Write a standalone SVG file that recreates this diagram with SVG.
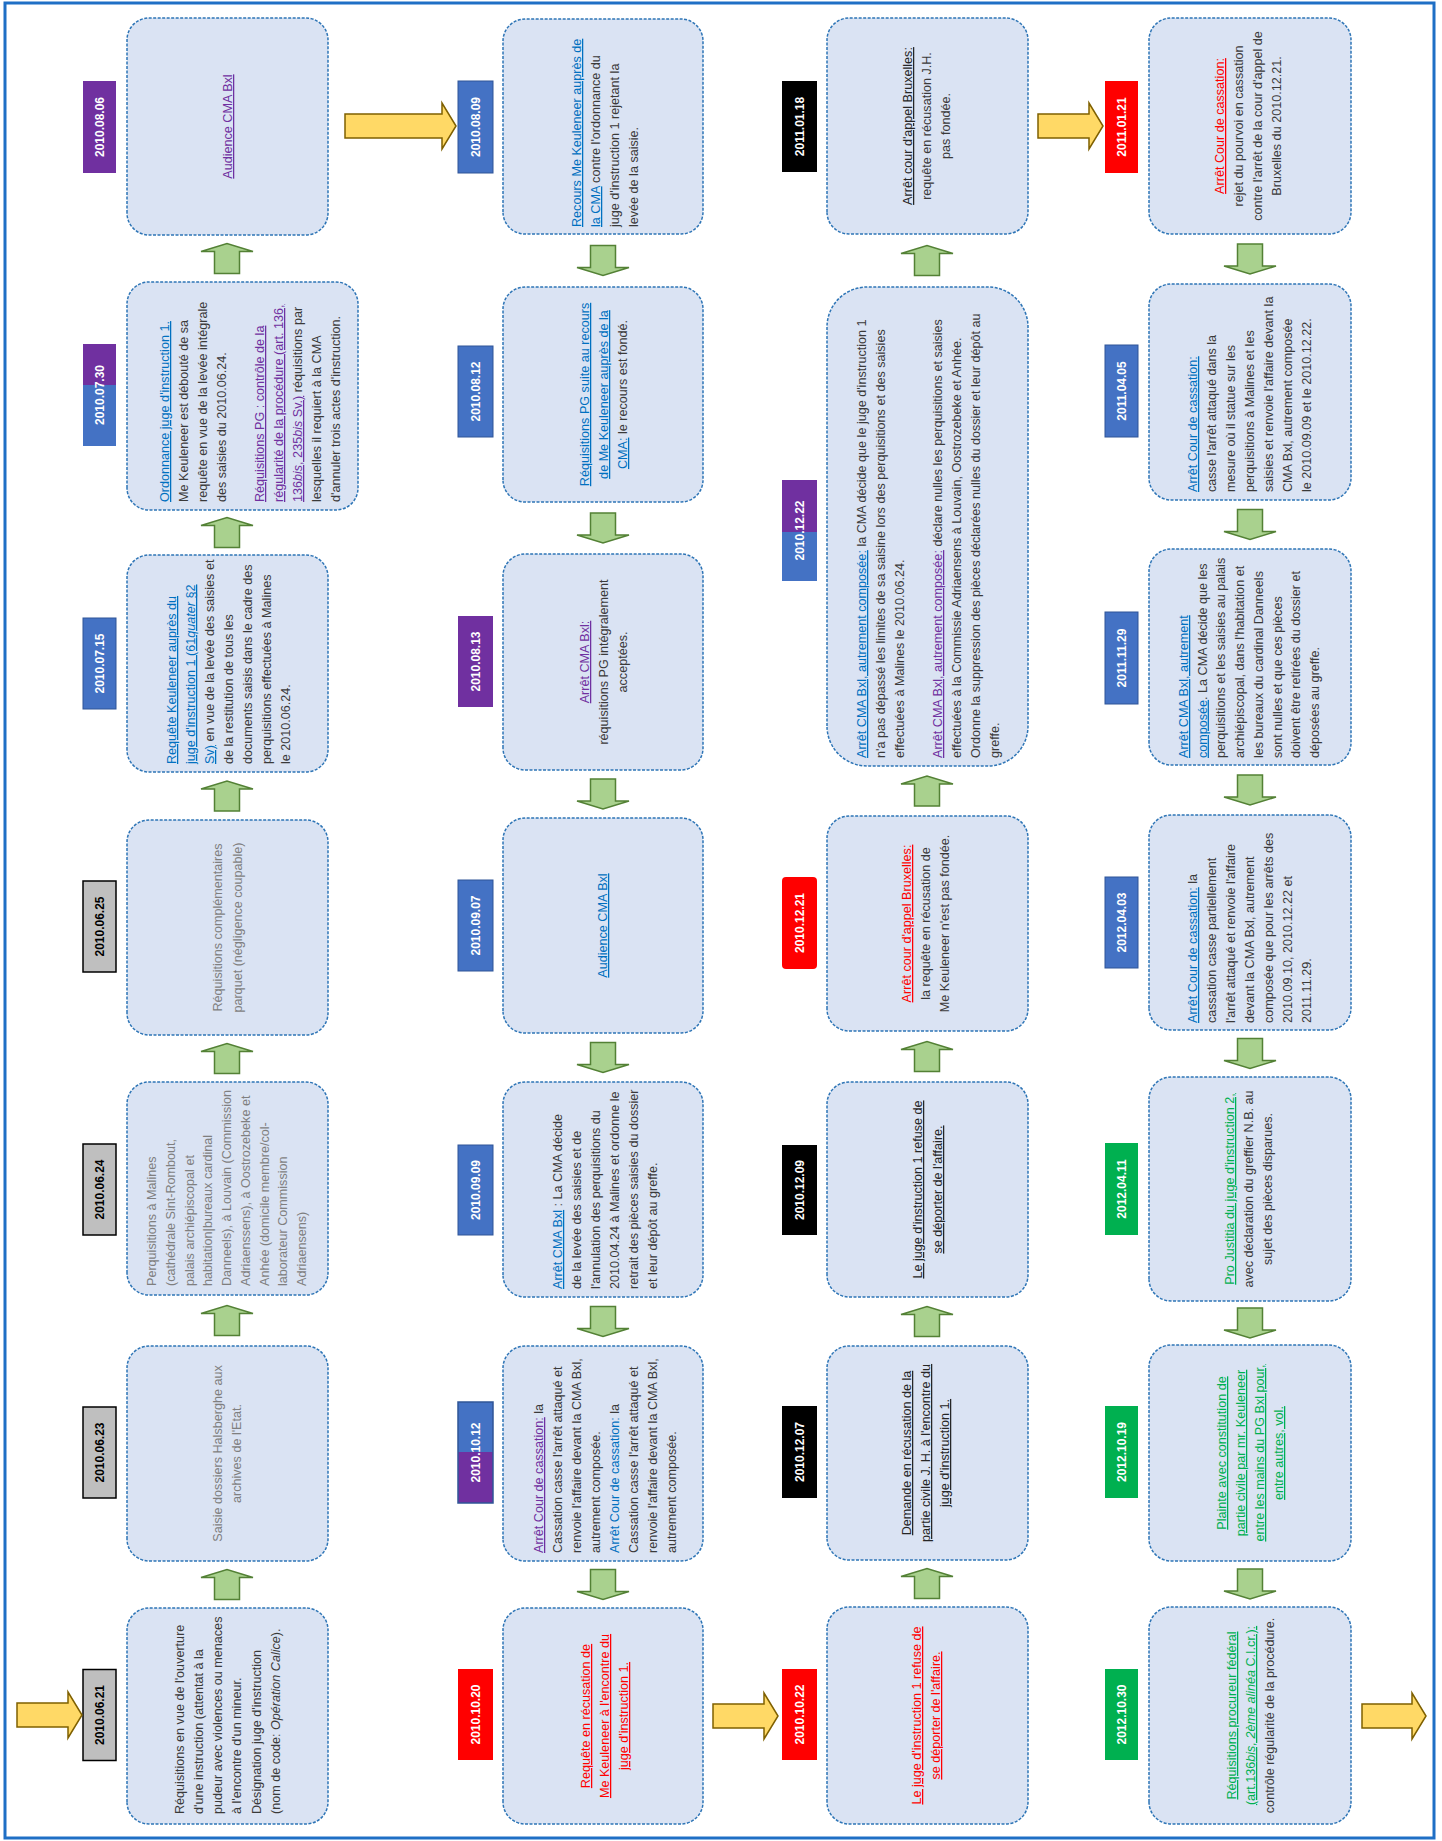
<svg xmlns="http://www.w3.org/2000/svg" width="1442" height="1841" viewBox="0 0 1442 1841">
<style>
.bx{fill:#DAE3F3;stroke:#2E75B6;stroke-width:1.5;stroke-dasharray:3 1.5}
.t{font-family:"Liberation Sans",Arial,sans-serif;font-size:12.6px;fill:#3A3A3A}
.gr{fill:#7F7F7F}
.c{text-anchor:middle}
.u{text-decoration:underline}
.b{fill:#0070C0}
.p{fill:#7030A0}
.r{fill:#FF0000}
.g{fill:#00B050}
.k{fill:#262626}
.i{font-style:italic}
.dl{font-family:"Liberation Sans",Arial,sans-serif;font-size:12px;font-weight:bold;fill:#fff;text-anchor:middle}
.dk{fill:#000}
.lg{fill:#BFBFBF;stroke:#000;stroke-width:1.5}
.lb{fill:#4472C4;stroke:#2F5597;stroke-width:1}
.lp{fill:#7030A0}
.lr{fill:#FF0000}
.lk{fill:#000}
.ln{fill:#00B050}
.ga{fill:#A9D18E;stroke:#538135;stroke-width:1.5}
.ya{fill:#FFD966;stroke:#7F6000;stroke-width:1.5}
</style>
<defs>
<path id="ar" d="M-15,-12.5 H7 V-26 L15,0 L7,26 V12.5 H-15 Z"/>
<path id="al" d="M15,-12.5 H-7 V-26 L-15,0 L-7,26 V12.5 H15 Z"/>
</defs>
<rect x="5" y="3" width="1429" height="1835" fill="none" stroke="#1F6FC5" stroke-width="3"/>
<g transform="translate(0,1841) rotate(-90)">

<!-- Column 1 -->
<g id="n-2010-06-21">
<rect class="lg" x="80.5" y="83" width="91" height="33"/>
<text class="dl dk" x="126" y="104">2010.06.21</text>
<rect class="bx" x="17" y="127" width="216" height="201" rx="22"/>
<text class="t" x="27" y="184">Réquisitions en vue de l'ouverture</text>
<text class="t" x="27" y="203">d'une instruction (attentat à la</text>
<text class="t" x="27" y="222">pudeur avec violences ou menaces</text>
<text class="t" x="27" y="241">à l'encontre d'un mineur.</text>
<text class="t" x="27" y="261">Désignation juge d'instruction</text>
<text class="t" x="27" y="280">(nom de code: <tspan class="i">Opération Calice</tspan>).</text>
</g>

<g id="n-2010-06-23">
<rect class="lg" x="343" y="83" width="91" height="33"/>
<text class="dl dk" x="388.5" y="104">2010.06.23</text>
<rect class="bx" x="280" y="127" width="215" height="201" rx="22"/>
<text class="t c gr" x="387.5" y="222">Saisie dossiers Halsberghe aux</text>
<text class="t c gr" x="387.5" y="241">archives de l'Etat.</text>
</g>

<g id="n-2010-06-24">
<rect class="lg" x="606" y="83" width="91" height="33"/>
<text class="dl dk" x="651.5" y="104">2010.06.24</text>
<rect class="bx" x="546" y="127" width="213" height="201" rx="22"/>
<text class="t gr" x="555" y="156">Perquisitions à Malines</text>
<text class="t gr" x="555" y="175">(cathédrale Sint-Rombout,</text>
<text class="t gr" x="555" y="193.5">palais archiépiscopal et</text>
<text class="t gr" x="555" y="212">habitation|bureaux cardinal</text>
<text class="t gr" x="555" y="231">Danneels), à Louvain (Commission</text>
<text class="t gr" x="555" y="250">Adriaenssens), à Oostrozebeke et</text>
<text class="t gr" x="555" y="268.5">Anhée (domicile membre/col-</text>
<text class="t gr" x="555" y="287">laborateur Commission</text>
<text class="t gr" x="555" y="306">Adriaensens)</text>
</g>

<g id="n-2010-06-25">
<rect class="lg" x="869" y="83" width="91" height="33"/>
<text class="dl dk" x="914.5" y="104">2010.06.25</text>
<rect class="bx" x="806" y="127" width="215" height="201" rx="22"/>
<text class="t c gr" x="913.5" y="222">Réquisitions complémentaires</text>
<text class="t c gr" x="913.5" y="242">parquet (négligence coupable)</text>
</g>

<g id="n-2010-07-15">
<rect class="lb" x="1132" y="83" width="91" height="33"/>
<text class="dl" x="1177.5" y="104">2010.07.15</text>
<rect class="bx" x="1069" y="127" width="217" height="201" rx="22"/>
<text class="t" x="1077" y="176"><tspan class="u b">Requête Keuleneer auprès du</tspan></text>
<text class="t" x="1077" y="195"><tspan class="u b">juge d'instruction 1 (61<tspan class="i">quater</tspan> §2</tspan></text>
<text class="t" x="1077" y="214"><tspan class="u b">Sv)</tspan> en vue de la levée des saisies et</text>
<text class="t" x="1077" y="233">de la restitution de tous les</text>
<text class="t" x="1077" y="252">documents saisis dans le cadre des</text>
<text class="t" x="1077" y="271">perquisitions effectuées à Malines</text>
<text class="t" x="1077" y="290">le 2010.06.24.</text>
</g>

<g id="n-2010-07-30">
<rect fill="#4472C4" x="1395" y="83" width="61" height="33"/>
<rect fill="#7030A0" x="1456" y="83" width="41" height="33"/>
<text class="dl" x="1446" y="104">2010.07.30</text>
<rect class="bx" x="1331" y="127" width="228" height="231" rx="22"/>
<text class="t" x="1339" y="169"><tspan class="u b">Ordonnance juge d'instruction 1.</tspan></text>
<text class="t" x="1339" y="188">Me Keuleneer est débouté de sa</text>
<text class="t" x="1339" y="207">requête en vue de la levée intégrale</text>
<text class="t" x="1339" y="226">des saisies du 2010.06.24.</text>
<text class="t" x="1339" y="264"><tspan class="u p">Réquisitions PG : contrôle de la</tspan></text>
<text class="t" x="1339" y="283"><tspan class="u p">régularité de la procédure (art. 136,</tspan></text>
<text class="t" x="1339" y="302"><tspan class="u p">136<tspan class="i">bis</tspan>, 235<tspan class="i">bis</tspan> Sv.)</tspan> réquisitions par</text>
<text class="t" x="1339" y="321">lesquelles il requiert à la CMA</text>
<text class="t" x="1339" y="340">d'annuler trois actes d'instruction.</text>
</g>

<g id="n-2010-08-06">
<rect class="lp" x="1668" y="83" width="92" height="33"/>
<text class="dl" x="1714" y="104">2010.08.06</text>
<rect class="bx" x="1606" y="127" width="217" height="201" rx="22"/>
<text class="t c u p" x="1714.5" y="232">Audience CMA Bxl</text>
</g>

<!-- Column 2 -->
<g id="n-2010-10-20">
<rect class="lr" x="81" y="458" width="91" height="35"/>
<text class="dl" x="126.5" y="480">2010.10.20</text>
<rect class="bx" x="17" y="503" width="216" height="200" rx="22"/>
<text class="t c u r" x="125" y="590">Requête en récusation de</text>
<text class="t c u r" x="125" y="609">Me Keuleneer à l'encontre du</text>
<text class="t c u r" x="125" y="628">juge d'instruction 1.</text>
</g>

<g id="n-2010-10-12">
<rect fill="#7030A0" x="338" y="458" width="51" height="35"/>
<rect fill="#4472C4" x="389" y="458" width="50" height="35"/>
<rect x="338" y="458" width="101" height="35" fill="none" stroke="#2F5597" stroke-width="1.5"/>
<text class="dl" x="388.5" y="480">2010.10.12</text>
<rect class="bx" x="280" y="503" width="215" height="200" rx="22"/>
<text class="t" x="288" y="543"><tspan class="u p">Arrêt Cour de cassation:</tspan> la</text>
<text class="t" x="288" y="562">Cassation casse l'arrêt attaqué et</text>
<text class="t" x="288" y="581">renvoie l'affaire devant la CMA Bxl,</text>
<text class="t" x="288" y="600">autrement composée.</text>
<text class="t" x="288" y="619"><tspan class="b">Arrêt Cour de cassation:</tspan>  la</text>
<text class="t" x="288" y="638">Cassation casse l'arrêt attaqué et</text>
<text class="t" x="288" y="657">renvoie l'affaire devant la CMA Bxl,</text>
<text class="t" x="288" y="676">autrement composée.</text>
</g>

<g id="n-2010-09-09">
<rect class="lb" x="606" y="458" width="90" height="35"/>
<text class="dl" x="651" y="480">2010.09.09</text>
<rect class="bx" x="544" y="503" width="215" height="200" rx="22"/>
<text class="t" x="552" y="562"><tspan class="u b">Arrêt CMA Bxl</tspan> : La CMA décide</text>
<text class="t" x="552" y="581">de la levée des saisies et de</text>
<text class="t" x="552" y="600">l'annulation des perquisitions du</text>
<text class="t" x="552" y="619">2010.04.24 à Malines et ordonne le</text>
<text class="t" x="552" y="638">retrait des pièces saisies du dossier</text>
<text class="t" x="552" y="657">et leur dépôt au greffe.</text>
</g>

<g id="n-2010-09-07">
<rect class="lb" x="870" y="458" width="91" height="35"/>
<text class="dl" x="915.5" y="480">2010.09.07</text>
<rect class="bx" x="808" y="503" width="215" height="200" rx="22"/>
<text class="t c u b" x="915.5" y="607">Audience CMA Bxl</text>
</g>

<g id="n-2010-08-13">
<rect class="lp" x="1134" y="458" width="91" height="35"/>
<text class="dl" x="1179.5" y="480">2010.08.13</text>
<rect class="bx" x="1071" y="503" width="216" height="200" rx="22"/>
<text class="t c" x="1179" y="589"><tspan class="u p">Arrêt CMA Bxl:</tspan></text>
<text class="t c" x="1179" y="608">réquisitions PG intégralement</text>
<text class="t c" x="1179" y="627">acceptées.</text>
</g>

<g id="n-2010-08-12">
<rect class="lb" x="1404" y="458" width="91" height="35"/>
<text class="dl" x="1449.5" y="480">2010.08.12</text>
<rect class="bx" x="1339" y="503" width="215" height="200" rx="22"/>
<text class="t c" x="1446.5" y="589"><tspan class="u b">Réquisitions PG suite au recours</tspan></text>
<text class="t c" x="1446.5" y="608"><tspan class="u b">de Me Keuleneer auprès de la</tspan></text>
<text class="t c" x="1446.5" y="627"><tspan class="u b">CMA:</tspan> le recours est fondé.</text>
</g>

<g id="n-2010-08-09">
<rect class="lb" x="1668" y="458" width="92" height="35"/>
<text class="dl" x="1714" y="480">2010.08.09</text>
<rect class="bx" x="1607" y="503" width="215" height="200" rx="22"/>
<text class="t" x="1614" y="581"><tspan class="u b">Recours Me Keuleneer auprès de</tspan></text>
<text class="t" x="1614" y="600"><tspan class="u b">la CMA</tspan> contre l'ordonnance du</text>
<text class="t" x="1614" y="619">juge d'instruction 1 rejetant la</text>
<text class="t" x="1614" y="638">levée de la saisie.</text>
</g>

<!-- Column 3 -->
<g id="n-2010-10-22">
<rect class="lr" x="81" y="782" width="91" height="35"/>
<text class="dl" x="126.5" y="804">2010.10.22</text>
<rect class="bx" x="17" y="827" width="217" height="201" rx="22"/>
<text class="t c u r" x="125.5" y="921">Le juge d'instruction 1 refuse de</text>
<text class="t c u r" x="125.5" y="940">se déporter de l'affaire.</text>
</g>

<g id="n-2010-12-07">
<rect class="lk" x="343" y="782" width="92" height="35"/>
<text class="dl" x="389" y="804">2010.12.07</text>
<rect class="bx" x="281" y="827" width="214" height="201" rx="22"/>
<text class="t c u k" x="388" y="911">Demande en récusation de la</text>
<text class="t c u k" x="388" y="930">partie civile J. H. à l'encontre du</text>
<text class="t c u k" x="388" y="949">juge d'instruction 1.</text>
</g>

<g id="n-2010-12-09">
<rect class="lk" x="606" y="782" width="90" height="35"/>
<text class="dl" x="651" y="804">2010.12.09</text>
<rect class="bx" x="544" y="827" width="215" height="201" rx="22"/>
<text class="t c u k" x="651.5" y="922">Le juge d'instruction 1 refuse de</text>
<text class="t c u k" x="651.5" y="942">se déporter de l'affaire.</text>
</g>

<g id="n-2010-12-21">
<rect class="lr" x="872" y="782" width="92" height="35" rx="4"/>
<text class="dl" x="918" y="804">2010.12.21</text>
<rect class="bx" x="810" y="827" width="215" height="201" rx="22"/>
<text class="t c" x="917.5" y="911"><tspan class="u r">Arrêt cour d'appel Bruxelles:</tspan></text>
<text class="t c" x="917.5" y="930">la requête en récusation de</text>
<text class="t c" x="917.5" y="949">Me Keuleneer n'est pas fondée.</text>
</g>

<g id="n-2010-12-22">
<rect fill="#4472C4" x="1260" y="782" width="49" height="35"/>
<rect fill="#7030A0" x="1309" y="782" width="52" height="35"/>
<text class="dl" x="1310.5" y="804">2010.12.22</text>
<rect class="bx" x="1075" y="827" width="479" height="201" rx="40"/>
<text class="t" x="1083" y="866"><tspan class="u b">Arrêt CMA Bxl, autrement composée:</tspan> la CMA décide que le juge d'instruction 1</text>
<text class="t" x="1083" y="885">n'a pas dépassé les limites de sa saisine lors des perquisitions et des saisies</text>
<text class="t" x="1083" y="904">effectuées à Malines le 2010.06.24.</text>
<text class="t" x="1083" y="942"><tspan class="u p">Arrêt CMA Bxl, autrement composée:</tspan> déclare nulles les perquisitions et saisies</text>
<text class="t" x="1083" y="961">effectuées à la Commissie Adriaensens à Louvain, Oostrozebeke et Anhée.</text>
<text class="t" x="1083" y="980">Ordonne la suppression des pièces déclarées nulles du dossier et leur dépôt au</text>
<text class="t" x="1083" y="999">greffe.</text>
</g>

<g id="n-2011-01-18">
<rect class="lk" x="1669" y="782" width="91" height="35"/>
<text class="dl" x="1714.5" y="804">2011.01.18</text>
<rect class="bx" x="1607" y="827" width="216" height="201" rx="22"/>
<text class="t c" x="1715" y="912"><tspan class="u k">Arrêt cour d'appel Bruxelles:</tspan></text>
<text class="t c" x="1715" y="931">requête en récusation J.H.</text>
<text class="t c" x="1715" y="950">pas fondée.</text>
</g>

<!-- Column 4 -->
<g id="n-2012-10-30">
<rect class="ln" x="81" y="1105" width="91" height="33"/>
<text class="dl" x="126.5" y="1126">2012.10.30</text>
<rect class="bx" x="17" y="1149" width="217" height="202" rx="22"/>
<text class="t c u g" x="125.5" y="1236">Réquisitions procureur fédéral</text>
<text class="t c u g" x="125.5" y="1255">(art.136<tspan class="i">bis, 2ème alinéa</tspan> C.I.cr.):</text>
<text class="t c" x="125.5" y="1274">contrôle régularité de la procédure.</text>
</g>

<g id="n-2012-10-19">
<rect class="ln" x="343" y="1105" width="92" height="33"/>
<text class="dl" x="389" y="1126">2012.10.19</text>
<rect class="bx" x="280" y="1149" width="216" height="202" rx="22"/>
<text class="t c u g" x="388" y="1226">Plainte avec constitution de</text>
<text class="t c u g" x="388" y="1245">partie civile par mr. Keuleneer</text>
<text class="t c u g" x="388" y="1264">entre les mains du PG Bxl pour,</text>
<text class="t c u g" x="388" y="1283">entre autres, vol.</text>
</g>

<g id="n-2012-04-11">
<rect class="ln" x="606" y="1105" width="92" height="33"/>
<text class="dl" x="652" y="1126">2012.04.11</text>
<rect class="bx" x="540" y="1149" width="224" height="202" rx="22"/>
<text class="t c" x="652" y="1234"><tspan class="u g">Pro Justitia du juge d'instruction 2,</tspan></text>
<text class="t c" x="652" y="1253">avec déclaration du greffier N.B. au</text>
<text class="t c" x="652" y="1272">sujet des pièces disparues.</text>
</g>

<g id="n-2012-04-03">
<rect class="lb" x="873" y="1105" width="91" height="33"/>
<text class="dl" x="918.5" y="1126">2012.04.03</text>
<rect class="bx" x="811" y="1149" width="215" height="202" rx="22"/>
<text class="t" x="818" y="1197"><tspan class="u b">Arrêt Cour de cassation:</tspan> la</text>
<text class="t" x="818" y="1216">cassation casse partiellement</text>
<text class="t" x="818" y="1235">l'arrêt attaqué et renvoie l'affaire</text>
<text class="t" x="818" y="1254">devant la CMA Bxl, autrement</text>
<text class="t" x="818" y="1273">composée que pour les arrêts des</text>
<text class="t" x="818" y="1292">2010.09.10, 2010.12.22 et</text>
<text class="t" x="818" y="1311">2011.11.29.</text>
</g>

<g id="n-2011-11-29">
<rect class="lb" x="1137" y="1105" width="92" height="33"/>
<text class="dl" x="1183" y="1126">2011.11.29</text>
<rect class="bx" x="1076" y="1149" width="216" height="202" rx="22"/>
<text class="t" x="1083" y="1188"><tspan class="u b">Arrêt CMA Bxl, autrement</tspan></text>
<text class="t" x="1083" y="1206.7"><tspan class="u b">composée</tspan>. La CMA décide que les</text>
<text class="t" x="1083" y="1225.4">perquisitions et les saisies au palais</text>
<text class="t" x="1083" y="1244.1">archiépiscopal, dans l'habitation et</text>
<text class="t" x="1083" y="1262.8">les bureaux du cardinal Danneels</text>
<text class="t" x="1083" y="1281.5">sont nulles et que ces pièces</text>
<text class="t" x="1083" y="1300.2">doivent être retirées du dossier et</text>
<text class="t" x="1083" y="1318.9">déposées au greffe.</text>
</g>

<g id="n-2011-04-05">
<rect class="lb" x="1404" y="1105" width="92" height="33"/>
<text class="dl" x="1450" y="1126">2011.04.05</text>
<rect class="bx" x="1341" y="1149" width="216" height="202" rx="22"/>
<text class="t" x="1349" y="1197"><tspan class="u b">Arrêt Cour de cassation:</tspan></text>
<text class="t" x="1349" y="1216">casse l'arrêt attaqué dans la</text>
<text class="t" x="1349" y="1235">mesure où il statue sur les</text>
<text class="t" x="1349" y="1254">perquisitions à Malines et les</text>
<text class="t" x="1349" y="1273">saisies et renvoie l'affaire devant la</text>
<text class="t" x="1349" y="1292">CMA Bxl, autrement composée</text>
<text class="t" x="1349" y="1311">le 2010.09.09 et le 2010.12.22.</text>
</g>

<g id="n-2011-01-21">
<rect class="lr" x="1668" y="1105" width="92" height="33"/>
<text class="dl" x="1714" y="1126">2011.01.21</text>
<rect class="bx" x="1607" y="1149" width="216" height="202" rx="22"/>
<text class="t c" x="1715" y="1224"><tspan class="u r">Arrêt Cour de cassation:</tspan></text>
<text class="t c" x="1715" y="1243">rejet du pourvoi en cassation</text>
<text class="t c" x="1715" y="1262">contre l'arrêt de la cour d'appel de</text>
<text class="t c" x="1715" y="1281">Bruxelles du 2010.12.21.</text>
</g>

<!-- Connectors -->
<g id="connectors">
<polygon class="ya" points="114,17 114,68 103,68 126,82 149,68 138,68 138,17"/>
<polygon class="ya" points="1703,345 1703,442 1692,442 1715,456 1738,442 1727,442 1727,345"/>
<polygon class="ya" points="113,713 113,764 102,764 125,778 148,764 137,764 137,713"/>
<polygon class="ya" points="1703,1038 1703,1089 1692,1089 1715,1103 1738,1089 1727,1089 1727,1038"/>
<polygon class="ya" points="113,1362 113,1412 102,1412 125,1426 148,1412 137,1412 137,1362"/>

<use class="ga" href="#ar" x="256.5" y="227"/>
<use class="ga" href="#ar" x="520.5" y="227"/>
<use class="ga" href="#ar" x="782.5" y="227"/>
<use class="ga" href="#ar" x="1045" y="227"/>
<use class="ga" href="#ar" x="1308.5" y="227"/>
<use class="ga" href="#ar" x="1582.5" y="227"/>

<use class="ga" href="#al" x="256.5" y="603"/>
<use class="ga" href="#al" x="519.5" y="603"/>
<use class="ga" href="#al" x="783.5" y="603"/>
<use class="ga" href="#al" x="1047" y="603"/>
<use class="ga" href="#al" x="1313" y="603"/>
<use class="ga" href="#al" x="1580.5" y="603"/>

<use class="ga" href="#ar" x="257.5" y="927"/>
<use class="ga" href="#ar" x="519.5" y="927"/>
<use class="ga" href="#ar" x="784.5" y="927"/>
<use class="ga" href="#ar" x="1050" y="927"/>
<use class="ga" href="#ar" x="1580.5" y="927"/>

<use class="ga" href="#al" x="257" y="1250"/>
<use class="ga" href="#al" x="518" y="1250"/>
<use class="ga" href="#al" x="787.5" y="1250"/>
<use class="ga" href="#al" x="1051" y="1250"/>
<use class="ga" href="#al" x="1316.5" y="1250"/>
<use class="ga" href="#al" x="1582" y="1250"/>
</g>
</g>
</svg>
